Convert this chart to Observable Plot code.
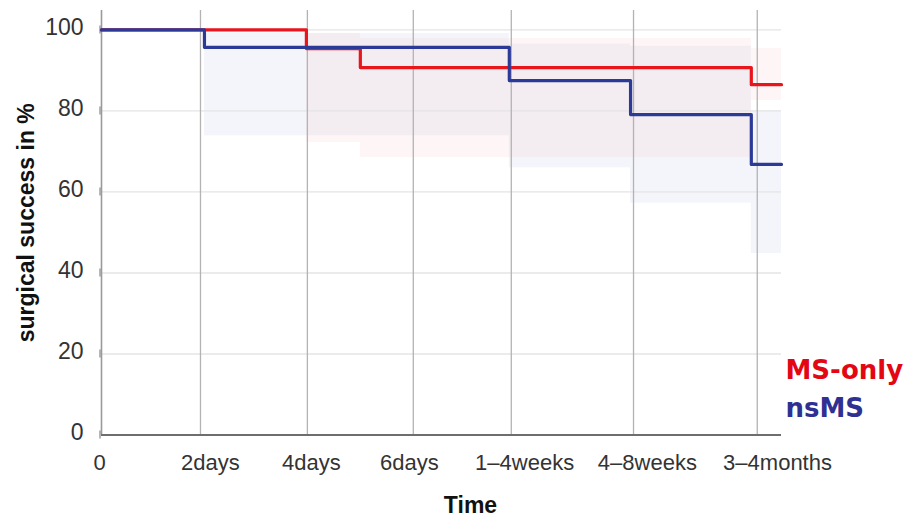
<!DOCTYPE html>
<html><head><meta charset="utf-8">
<script src="https://cdn.jsdelivr.net/npm/d3@7"></script>
<script src="https://cdn.jsdelivr.net/npm/@observablehq/plot@0.6"></script>
<style>body{margin:0;background:#fff}</style>
</head><body><div id="chart"></div>
<script>
// ---- data ----
const xEnd = 13.74;
const gridTicks = [0, 2, 4.16, 6.3, 8.28, 10.75, 13.25];
const tickLabels = ["0", "2days", "4days", "6days", "1–4weeks", "4–8weeks", "3–4months"];
const labelPos = [-0.04, 2.2, 4.24, 6.22, 8.55, 11.03, 13.66];
const yTicks = [0, 20, 40, 60, 80, 100];
const seriesNames = ["MS-only", "nsMS"];

const msTimes = [0, 4.14, 5.23, 13.13, xEnd];
const msSurv  = [100, 95.4, 90.7, 86.5, 86.5];
const nsTimes = [0, 2.08, 8.24, 10.69, 13.13, xEnd];
const nsSurv  = [100, 95.7, 87.5, 79.1, 66.8, 66.8];

const msBandTimes = [4.14, 5.23, 13.13, xEnd];
const msUpper = [99.1, 97.9, 95.4, 95.4];
const msLower = [72.2, 68.5, 82.6, 82.6];
const nsBandTimes = [2.08, 8.24, 10.69, 13.13, xEnd];
const nsUpper = [99.1, 96.5, 96.0, 80.1, 80.1];
const nsLower = [73.9, 66.0, 57.2, 44.8, 44.8];

// ---- tables ----
const msLine = msTimes.map((t, i) => ({t, v: msSurv[i]}));
const nsLine = nsTimes.map((t, i) => ({t, v: nsSurv[i]}));
const msBand = msBandTimes.map((t, i) => ({t, hi: msUpper[i], lo: msLower[i]}));
const nsBand = nsBandTimes.map((t, i) => ({t, hi: nsUpper[i], lo: nsLower[i]}));

const RED = "#e8161c", BLUE = "#2b3a96";
const yTop = 104.8;

const chart = Plot.plot({
  width: 904, height: 520,
  marginLeft: 101, marginRight: 123, marginTop: 10, marginBottom: 85.5,
  x: {domain: [0, xEnd], axis: null},
  y: {domain: [0, yTop], axis: null},
  style: {fontFamily: "'Liberation Sans', Arial, sans-serif", background: "#fff", overflow: "visible"},
  marks: [
    Plot.areaY(msBand, {x: "t", y1: "lo", y2: "hi", curve: "step-after", fill: RED, fillOpacity: 0.04}),
    Plot.areaY(nsBand, {x: "t", y1: "lo", y2: "hi", curve: "step-after", fill: BLUE, fillOpacity: 0.05}),
    Plot.ruleY(yTicks.filter(d => d > 0), {stroke: "#e4e4e4", strokeWidth: 1.3}),
    Plot.ruleX(gridTicks.slice(1), {stroke: "#b3b3b3", strokeWidth: 1.3}),
    Plot.ruleX([0], {stroke: "#9a9a9a", strokeWidth: 1.6}),
    Plot.ruleX(yTicks, {x: 0, y1: d => d - 1, y2: d => d + 1, dx: -1.5, stroke: "#888", strokeWidth: 1.2}),
    Plot.ruleY([0], {stroke: "#6e6e6e", strokeWidth: 2.2}),
    Plot.line(msLine, {x: "t", y: "v", curve: "step-after", stroke: RED, strokeWidth: 3.2}),
    Plot.line(nsLine, {x: "t", y: "v", curve: "step-after", stroke: BLUE, strokeWidth: 3.2}),
    Plot.text(yTicks, {x: 0, y: d => d, text: d => String(d), textAnchor: "end", dx: -18, dy: -2, fontSize: 23, fill: "#333"}),
    Plot.text(tickLabels, {x: (d, i) => labelPos[i], text: d => d, frameAnchor: "bottom", dy: 35, fontSize: 22, fill: "#333"}),
    Plot.text(["surgical success in %"], {frameAnchor: "left", textAnchor: "middle", dx: -75, rotate: -90, fontSize: 23, fontWeight: "bold", fill: "#111"}),
    Plot.text(["Time"], {frameAnchor: "bottom", dx: 29, dy: 78, fontSize: 23, fontWeight: "bold", fill: "#111"}),
    Plot.text([seriesNames[0]], {frameAnchor: "bottom-right", textAnchor: "start", dx: 4, dy: -56, fontSize: 26, fontWeight: "bold", fill: "#e30613", fontFamily: "'DejaVu Sans', sans-serif"}),
    Plot.text([seriesNames[1]], {frameAnchor: "bottom-right", textAnchor: "start", dx: 4, dy: -18, fontSize: 26, fontWeight: "bold", fill: "#2e3192", fontFamily: "'DejaVu Sans', sans-serif"})
  ]
});
document.getElementById("chart").appendChild(chart);
</script>
</body></html>
